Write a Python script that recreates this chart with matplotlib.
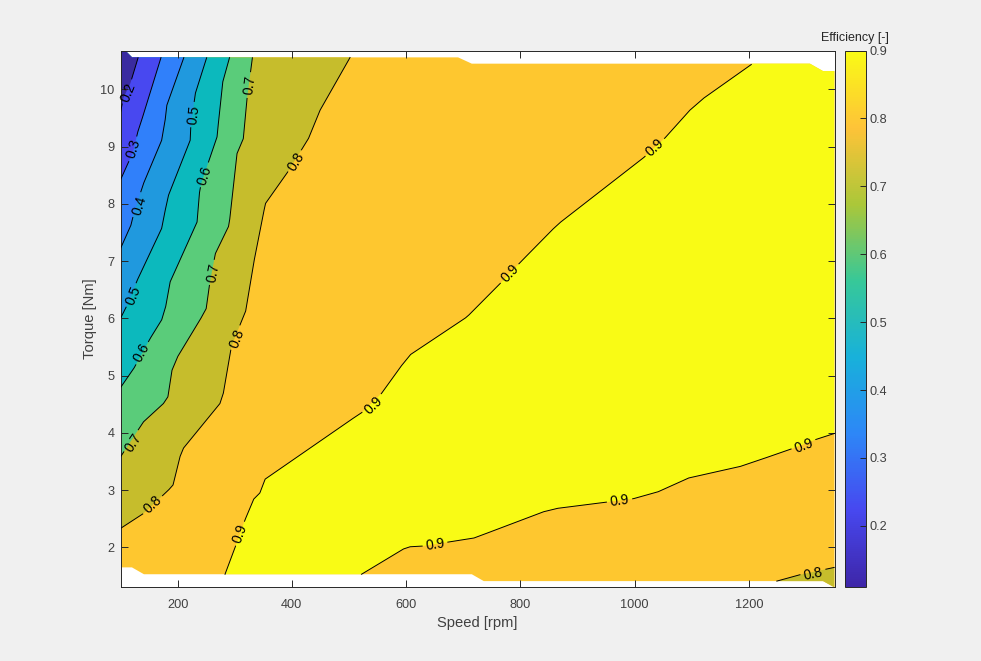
import matplotlib

matplotlib.use("Agg")
import matplotlib.pyplot as plt
import numpy as np
from matplotlib.cm import ScalarMappable
from matplotlib.colors import LinearSegmentedColormap, Normalize
from matplotlib.patches import Polygon

# outline of the measured map
upper_speed = [100, 108, 120, 691, 715, 1307, 1330, 1350]
upper_torque = [10.68, 10.68, 10.56, 10.56, 10.45, 10.45, 10.32, 10.32]
lower_speed = [100, 120, 141, 715, 736, 1330, 1350]
lower_torque = [1.65, 1.65, 1.53, 1.53, 1.41, 1.41, 1.30]

# contour lines
eff02_speed = [100, 105, 117, 131]
eff02_torque = [9.60, 9.85, 10.10, 10.56]
eff03_speed = [100, 114, 122, 130, 136, 171]
eff03_torque = [8.42, 8.73, 8.90, 9.25, 9.43, 10.56]
eff04_speed = [100, 118, 123, 140, 172, 178, 181, 211]
eff04_torque = [7.22, 7.62, 7.82, 8.35, 9.11, 9.45, 9.72, 10.56]
eff05_speed = [100, 115, 129, 172, 177, 184, 222, 223, 231, 251]
eff05_torque = [6.00, 6.30, 6.66, 7.57, 7.83, 8.15, 9.11, 9.34, 9.93, 10.56]
eff06_speed = [100, 123, 152, 172, 179, 187, 234, 238, 241, 269, 270, 279, 291]
eff06_torque = [4.79, 5.12, 5.65, 5.97, 6.20, 6.64, 7.68, 8.18, 8.35, 9.17, 9.28, 10.13, 10.56]
eff07_speed = [100, 140, 175, 183, 190, 200, 239, 250, 256, 266, 289, 291, 304, 315, 321, 331]
eff07_torque = [3.58, 4.19, 4.51, 4.63, 5.09, 5.33, 5.97, 6.17, 6.60, 7.13, 7.60, 7.71, 8.88, 9.14, 9.80, 10.56]
eff08_speed = [100, 140, 184, 192, 204, 210, 274, 280, 294, 309, 319, 333, 350, 354, 391, 429, 449, 502]
eff08_torque = [2.33, 2.59, 3.00, 3.09, 3.58, 3.73, 4.51, 4.69, 5.50, 5.88, 6.12, 6.96, 7.83, 8.01, 8.53, 9.14, 9.63, 10.56]
eff09_speed = [283, 301, 318, 333, 344, 353, 502, 522, 557, 590, 608, 703, 709, 759, 800, 855,
               869, 1015, 1053, 1096, 1120, 1205]
eff09_torque = [1.53, 2.01, 2.48, 2.84, 2.95, 3.19, 4.22, 4.35, 4.69, 5.15, 5.37, 6.00, 6.05, 6.55, 6.98, 7.54,
                7.67, 8.80, 9.15, 9.63, 9.84, 10.44]
eff09b_speed = [522, 595, 607, 627, 718, 729, 840, 864, 951, 998, 1041, 1094, 1184, 1214, 1272, 1316, 1350]
eff09b_torque = [1.53, 1.97, 2.01, 2.02, 2.16, 2.20, 2.62, 2.68, 2.79, 2.85, 2.97, 3.21, 3.41, 3.51, 3.71, 3.88, 3.99]
eff08b_speed = [1249, 1289, 1350]
eff08b_torque = [1.41, 1.52, 1.65]

region_colors = {
    0.1: "#3A2BA0",
    0.2: "#4848F0",
    0.3: "#3080FA",
    0.4: "#2099DE",
    0.5: "#0CB9BD",
    0.6: "#5ACC7A",
    0.7: "#C6BD2C",
    0.8: "#FEC72F",
    0.9: "#F9FB15",
}
parula_colors = ["#3E26A8", "#4748F0", "#2D87F7", "#18B1DA", "#37C898", "#ABC739", "#FEC338", "#F9FB15"]

TOP = 11.0
BOTTOM = 1.0
BG = "#F0F0F0"
TEXT = "#404040"
EDGE = "#262626"


def draw_line(ax, speed, torque, labels):
    # resample in pixels so that labels can sit in a gap along the line
    pts = ax.transData.transform(np.column_stack([speed, torque]))
    dist = np.r_[0, np.cumsum(np.hypot(*np.diff(pts, axis=0).T))]
    steps = np.arange(0, dist[-1], 0.5)
    px = np.interp(steps, dist, pts[:, 0])
    py = np.interp(steps, dist, pts[:, 1])
    keep = np.ones(px.size, dtype=bool)
    for text, s, t in labels:
        cx, cy = ax.transData.transform((s, t))
        i = np.argmin(np.hypot(px - cx, py - cy))
        a, b = max(i - 24, 0), min(i + 24, px.size - 1)
        angle = np.degrees(np.arctan2(py[b] - py[a], px[b] - px[a]))
        if angle > 90:
            angle -= 180
        keep[np.hypot(px - px[i], py - py[i]) < 13] = False
        ax.text(s, t, text, fontsize=10, color="black", rotation=angle,
                rotation_mode="anchor", ha="center", va="center", zorder=4)
    xy = ax.transData.inverted().transform(np.column_stack([px, py]))
    xy[~keep] = np.nan
    ax.plot(xy[:, 0], xy[:, 1], color="black", lw=0.7, zorder=3)


def main() -> None:
    plt.rcParams["font.family"] = ["Liberation Sans", "DejaVu Sans"]
    fig = plt.figure(figsize=(9.81, 6.61), dpi=100, facecolor=BG)
    ax = fig.add_axes([120.5 / 981, 1 - 587 / 661, 714 / 981, 536.5 / 661])
    ax.set_xlim(100, 1350)
    ax.set_ylim(1.307, 10.68)

    envelope = Polygon(
        np.column_stack([upper_speed + lower_speed[::-1], upper_torque + lower_torque[::-1]]),
        closed=True, facecolor=region_colors[0.8], edgecolor="none", zorder=1,
    )
    ax.add_patch(envelope)

    # left side regions, painted from high efficiency to low
    left_lines = [
        (0.7, eff08_speed, eff08_torque),
        (0.6, eff07_speed, eff07_torque),
        (0.5, eff06_speed, eff06_torque),
        (0.4, eff05_speed, eff05_torque),
        (0.3, eff04_speed, eff04_torque),
        (0.2, eff03_speed, eff03_torque),
        (0.1, eff02_speed, eff02_torque),
    ]
    for level, speed, torque in left_lines:
        xs = speed + [speed[-1], 100]
        ys = torque + [TOP, TOP]
        patch = ax.fill(xs, ys, color=region_colors[level], lw=0, zorder=1.5)[0]
        patch.set_clip_path(envelope)

    xs = eff09_speed + [eff09_speed[-1], 1350] + eff09b_speed[::-1] + [eff09b_speed[0], eff09_speed[0]]
    ys = eff09_torque + [TOP, TOP] + eff09b_torque[::-1] + [BOTTOM, BOTTOM]
    ax.fill(xs, ys, color=region_colors[0.9], lw=0, zorder=1.5)[0].set_clip_path(envelope)

    xs = eff08b_speed + [1350, eff08b_speed[0]]
    ys = eff08b_torque + [BOTTOM, BOTTOM]
    ax.fill(xs, ys, color=region_colors[0.7], lw=0, zorder=1.5)[0].set_clip_path(envelope)

    draw_line(ax, eff02_speed, eff02_torque, [("0.2", 114, 9.95)])
    draw_line(ax, eff03_speed, eff03_torque, [("0.3", 123, 8.96)])
    draw_line(ax, eff04_speed, eff04_torque, [("0.4", 133, 7.97)])
    draw_line(ax, eff05_speed, eff05_torque, [("0.5", 122, 6.40), ("0.5", 229, 9.56)])
    draw_line(ax, eff06_speed, eff06_torque, [("0.6", 137, 5.40), ("0.6", 248, 8.50)])
    draw_line(ax, eff07_speed, eff07_torque, [("0.7", 122, 3.83), ("0.7", 262, 6.80), ("0.7", 327, 10.07)])
    draw_line(ax, eff08_speed, eff08_torque, [("0.8", 157, 2.74), ("0.8", 304, 5.65), ("0.8", 408, 8.73)])
    draw_line(ax, eff09_speed, eff09_torque,
              [("0.9", 309, 2.24), ("0.9", 543, 4.48), ("0.9", 782, 6.78), ("0.9", 1036, 8.98)])
    draw_line(ax, eff09b_speed, eff09b_torque, [("0.9", 651, 2.04), ("0.9", 974, 2.81), ("0.9", 1296, 3.77)])
    draw_line(ax, eff08b_speed, eff08b_torque, [("0.8", 1313, 1.54)])

    ax.set_xticks(np.arange(200, 1201, 200))
    ax.set_yticks(np.arange(2, 11))
    ax.tick_params(direction="in", length=5, width=0.7, color=EDGE, labelcolor=TEXT,
                   labelsize=9.2, top=True, right=True)
    ax.tick_params(axis="x", pad=8.4)
    ax.tick_params(axis="y", pad=4.5)
    ax.set_xlabel("Speed [rpm]", fontsize=10.6, color=TEXT, labelpad=3.5)
    ax.set_ylabel("Torque [Nm]", fontsize=10.6, color=TEXT, labelpad=2.4)
    for spine in ax.spines.values():
        spine.set_color(EDGE)
        spine.set_linewidth(0.7)

    cax = fig.add_axes([844.5 / 981, 1 - 587 / 661, 21 / 981, 536.5 / 661])
    parula = LinearSegmentedColormap.from_list("parula", parula_colors)
    cbar = fig.colorbar(ScalarMappable(Normalize(0.11, 0.9), parula), cax=cax)
    cbar.set_ticks(np.arange(0.2, 0.91, 0.1))
    cbar.ax.tick_params(direction="in", length=4, width=0.7, color=EDGE, labelcolor=TEXT,
                        labelsize=9.2, pad=3)
    cbar.outline.set_edgecolor(EDGE)
    cbar.outline.set_linewidth(0.7)
    fig.text(855 / 981, 1 - 37.5 / 661, "Efficiency [-]", fontsize=9, color="#262626",
             ha="center", va="center")

    fig.savefig("out.png", dpi=100, facecolor=BG)


if __name__ == "__main__":
    main()
